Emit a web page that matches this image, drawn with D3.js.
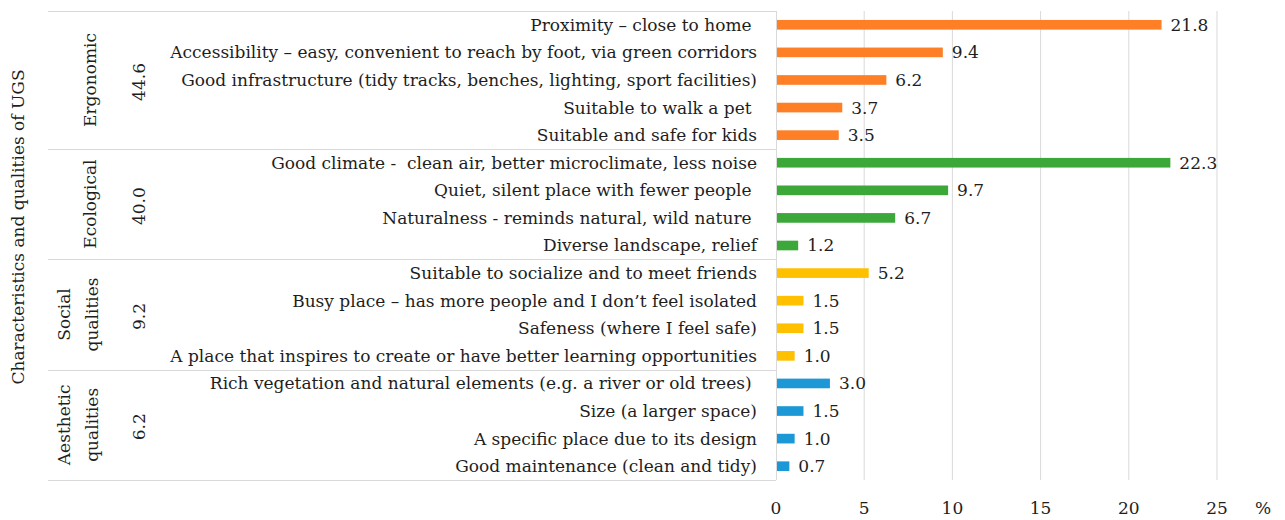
<!DOCTYPE html>
<html><head><meta charset="utf-8">
<script src="https://cdn.jsdelivr.net/npm/d3@7"></script>
<style>
body{margin:0;background:#fff;}
text{font-family:"DejaVu Serif",serif;fill:#1e1e1e;white-space:pre;}
</style></head>
<body><svg id="c" width="1285" height="520"></svg>
<script>
const categories = [
 "Proximity – close to home ",
 "Accessibility – easy, convenient to reach by foot, via green corridors",
 "Good infrastructure (tidy tracks, benches, lighting, sport facilities)",
 "Suitable to walk a pet ",
 "Suitable and safe for kids",
 "Good climate -  clean air, better microclimate, less noise",
 "Quiet, silent place with fewer people ",
 "Naturalness - reminds natural, wild nature ",
 "Diverse landscape, relief",
 "Suitable to socialize and to meet friends",
 "Busy place – has more people and I don’t feel isolated",
 "Safeness (where I feel safe)",
 "A place that inspires to create or have better learning opportunities",
 "Rich vegetation and natural elements (e.g. a river or old trees) ",
 "Size (a larger space)",
 "A specific place due to its design",
 "Good maintenance (clean and tidy)"
];
const values = [21.8,9.4,6.2,3.7,3.5,22.3,9.7,6.7,1.2,5.2,1.5,1.5,1.0,3.0,1.5,1.0,0.7];
const groupOf = [0,0,0,0,0,1,1,1,1,2,2,2,2,3,3,3,3];
const groupNames = [["Ergonomic"],["Ecological"],["Social","qualities"],["Aesthetic","qualities"]];
const groupTotals = ["44.6","40.0","9.2","6.2"];
const groupColors = ["#FF7F27","#3DA83A","#FFC000","#1B98D5"];
const xTicks = [0,5,10,15,20,25];

(function(){
const svg = d3.select("#c");
const yTop=11, yBot=480, x0=776, x1=1217, tableLeft=48;
const fs=17;
const x = d3.scaleLinear().domain([0,25]).range([x0,x1]);
const y = d3.scaleBand().domain(d3.range(categories.length)).range([yTop,yBot]).paddingInner(0.65).paddingOuter(0.325);
const grid="#d9d9d9";

svg.append("g").selectAll("line").data(xTicks.slice(1)).join("line")
 .attr("x1",d=>x(d)).attr("x2",d=>x(d)).attr("y1",yTop).attr("y2",yBot)
 .attr("stroke",grid).attr("stroke-width",1);
svg.append("line").attr("x1",x0+0.5).attr("x2",x0+0.5).attr("y1",yTop).attr("y2",yBot).attr("stroke",grid);

const step=y.step();
const bandTop = i => yTop + i*step;
const groups = d3.range(groupNames.length).map(g=>{
  const idx = d3.range(categories.length).filter(i=>groupOf[i]===g);
  return {g, idx, y0: bandTop(idx[0]), y1: bandTop(idx[idx.length-1]+1)};
});
const bounds = [yTop].concat(groups.map(G=>G.y1));
svg.append("g").selectAll("line").data(bounds).join("line")
 .attr("x1",tableLeft).attr("x2",x0).attr("y1",d=>Math.round(d)+0.5).attr("y2",d=>Math.round(d)+0.5)
 .attr("stroke",grid).attr("stroke-width",1.2);

svg.append("g").selectAll("rect").data(values).join("rect")
 .attr("x",x(0)+1).attr("y",(d,i)=>y(i)).attr("height",y.bandwidth())
 .attr("width",d=>x(d)-x(0)).attr("fill",(d,i)=>groupColors[groupOf[i]]);

svg.append("g").selectAll("text").data(values).join("text")
 .attr("x",d=>x(d)+10).attr("y",(d,i)=>y(i)+y.bandwidth()/2).attr("dy","0.35em")
 .attr("font-size",fs).text(d=>d.toFixed(1));

svg.append("g").selectAll("text").data(categories).join("text")
 .attr("x",757).attr("y",(d,i)=>y(i)+y.bandwidth()/2).attr("dy","0.35em")
 .attr("text-anchor","end").attr("font-size",fs).text(d=>d);

groups.forEach(G=>{
  const cy=(G.y0+G.y1)/2;
  const names=groupNames[G.g];
  const xs = names.length===1?[90]:[64,92];
  names.forEach((n,k)=>{
    svg.append("text").attr("transform",`translate(${xs[k]},${cy}) rotate(-90)`)
     .attr("text-anchor","middle").attr("dy","0.35em").attr("font-size",fs).text(n);
  });
  svg.append("text").attr("transform",`translate(139,${cy+2}) rotate(-90)`)
   .attr("text-anchor","middle").attr("dy","0.35em").attr("font-size",fs).text(groupTotals[G.g]);
});

svg.append("g").selectAll("text").data(xTicks).join("text")
 .attr("x",d=>x(d)).attr("y",508).attr("dy","0.35em").attr("text-anchor","middle")
 .attr("font-size",fs).text(d=>d);
svg.append("text").attr("x",1263).attr("y",508).attr("dy","0.35em").attr("text-anchor","middle").attr("font-size",fs).text("%");

svg.append("text").attr("transform","translate(18,227) rotate(-90)").attr("text-anchor","middle")
 .attr("dy","0.35em").attr("font-size",fs).text("Characteristics and qualities of UGS");
})();
</script></body></html>
